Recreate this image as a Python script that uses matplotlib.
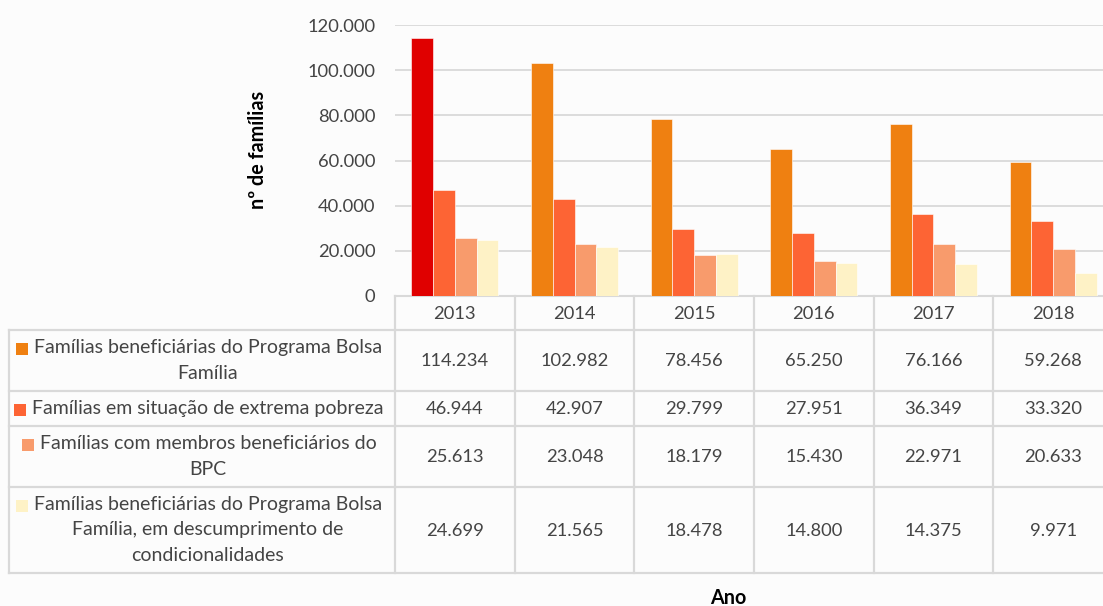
import matplotlib
matplotlib.use("Agg")
import matplotlib.pyplot as plt
from matplotlib.patches import Rectangle
from matplotlib.lines import Line2D

years = ["2013", "2014", "2015", "2016", "2017", "2018"]
series_names = [
    ["Famílias beneficiárias do Programa Bolsa", "Família"],
    ["Famílias em situação de extrema pobreza"],
    ["Famílias com membros beneficiários do", "BPC"],
    ["Famílias beneficiárias do Programa Bolsa", "Família, em descumprimento de", "condicionalidades"],
]
bolsa = [114234, 102982, 78456, 65250, 76166, 59268]
extrema = [46944, 42907, 29799, 27951, 36349, 33320]
bpc = [25613, 23048, 18179, 15430, 22971, 20633]
descump = [24699, 21565, 18478, 14800, 14375, 9971]
values = [bolsa, extrema, bpc, descump]
yticks = [0, 20000, 40000, 60000, 80000, 100000, 120000]

colors = ["#EF8011", "#FD6434", "#F89B6C", "#FEF2C6"]
highlight = "#E00000"
bg = "#FCFCFC"
grid = "#D9D9D9"
txt = "#444444"

FONT = ["Lato", "DejaVu Sans"]
plt.rcParams["font.family"] = FONT
FS = 13.2
FS_LAB = 14.0

W, H = 1103, 606
fig = plt.figure(figsize=(W / 100, H / 100), dpi=100, facecolor=bg)

def fx(px):
    return px / W

def fy(py):
    return 1 - py / H

# layout (pixel)
ax_l, ax_r = 395, 1113
ax_t, ax_b = 25, 296
tab_l, tab_b = 9, 573
col_w = (ax_r - ax_l) / 6.0

ax = fig.add_axes([fx(ax_l), fy(ax_b), fx(ax_r - ax_l), (ax_b - ax_t) / H])
ax.set_facecolor(bg)
ax.set_xlim(-0.5, 5.5)
ax.set_ylim(0, 120000)
bw = 21.7 / col_w
offsets = [-1.5 * bw, -0.5 * bw, 0.5 * bw, 1.5 * bw]
for si, vals in enumerate(values):
    cols = [colors[si]] * len(vals)
    if si == 0:
        cols[0] = highlight
    ax.bar([i + offsets[si] for i in range(len(vals))], vals, width=bw,
           color=cols, edgecolor="#FFFFFF", linewidth=0.4, zorder=3)
ax.set_yticks(yticks)
ax.set_yticklabels([f"{v:,}".replace(",", ".") for v in yticks], fontsize=FS, color=txt)
ax.tick_params(axis="y", length=0, pad=14)
ax.set_xticks([])
ax.grid(axis="y", color=grid, linewidth=1.3, zorder=0)
for s in ["top", "right", "left"]:
    ax.spines[s].set_visible(False)
ax.spines["bottom"].set_color(grid)
ax.spines["bottom"].set_linewidth(1.5)

# table axes
tab = fig.add_axes([fx(tab_l), fy(tab_b), fx(ax_r - tab_l), (tab_b - ax_b) / H])
tab.set_facecolor("none")
lab_w = (ax_l - tab_l) / col_w
tab.set_xlim(-0.5 - lab_w, 5.5)
tab.set_ylim(tab_b, ax_b)
tab.axis("off")
row_lines = [330, 391, 426, 487, 573]
lc = "#D9D9D9"
lw = 1.6
xl = -0.5 - lab_w
for y in row_lines:
    tab.add_line(Line2D([xl, 5.5], [y, y], color=lc, lw=lw, clip_on=False))
for i in range(7):
    x = -0.5 + i
    tab.add_line(Line2D([x, x], [ax_b, tab_b], color=lc, lw=lw, clip_on=False))
tab.add_line(Line2D([xl, xl], [row_lines[0], tab_b], color=lc, lw=lw, clip_on=False))

for i, yr in enumerate(years):
    tab.text(i, (ax_b + row_lines[0]) / 2 + 1, yr, ha="center", va="center",
             fontsize=FS, color=txt)

label_cx = -0.5 - lab_w / 2 + 0.05
line_sp = 25.5
fig.canvas.draw()
renderer = fig.canvas.get_renderer()
for r in range(4):
    top, bot = row_lines[r], row_lines[r + 1]
    mid = (top + bot) / 2
    n = len(series_names[r])
    for li, line in enumerate(series_names[r]):
        y = mid + (li - (n - 1) / 2) * line_sp
        t = tab.text(label_cx, y, line, ha="center", va="center", fontsize=FS_LAB, color=txt)
        if li == 0:
            bb = t.get_window_extent(renderer)
            x0 = bb.x0
            sq = Rectangle((x0 - 18, H - y - 6 - 1), 12, 12, transform=None,
                           facecolor=colors[r], edgecolor="none")
            fig.patches.append(sq)
    for i, v in enumerate(values[r]):
        tab.text(i, mid + 1, f"{v:,}".replace(",", "."), ha="center", va="center",
                 fontsize=FS, color=txt)

fig.text(fx(258), fy(150), "nº de famílias", rotation=90, ha="center", va="center",
         fontsize=14.2, fontweight="bold", color="#000000")
fig.text(fx(728), fy(598), "Ano", ha="center", va="center", fontsize=14.2,
         fontweight="bold", color="#000000")

fig.savefig("out.png", dpi=100, facecolor=bg)
